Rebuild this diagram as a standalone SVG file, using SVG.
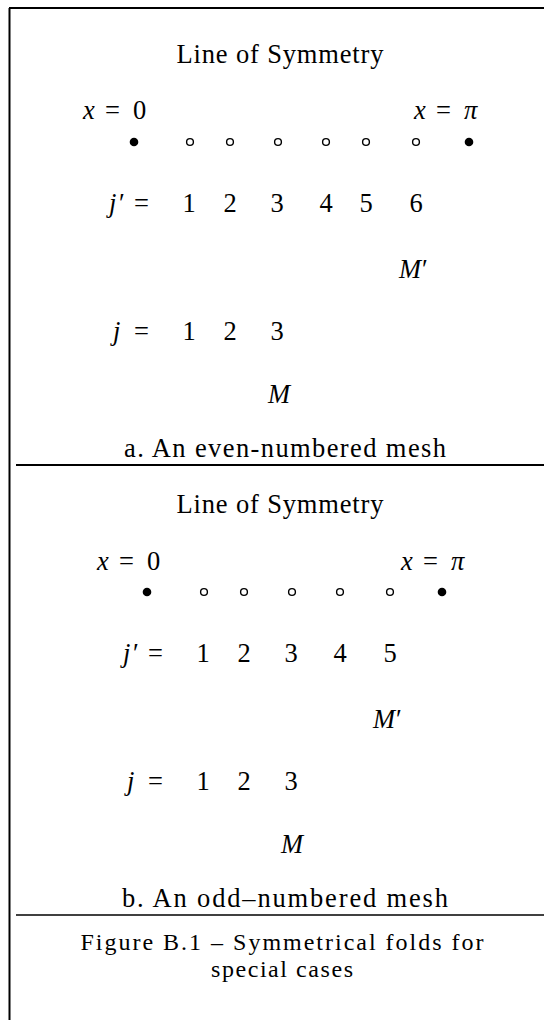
<svg xmlns="http://www.w3.org/2000/svg" width="544" height="1020" viewBox="0 0 544 1020">
<style>
text{font-family:"Liberation Serif","Times New Roman",serif;font-size:26.5px;fill:#000}
.c{text-anchor:middle}
.i{font-style:italic}
.cap{font-size:24px}
.dot{fill:#000}
.odot{fill:#fff;stroke:#000;stroke-width:1.4}
.frame{stroke:#000;fill:none}
</style>
<g id="frame">
<line class="frame" x1="9.5" y1="8" x2="9.5" y2="1020" stroke-width="2"/>
<line class="frame" x1="9" y1="8" x2="544" y2="8" stroke-width="2"/>
<line class="frame" x1="16" y1="465" x2="544" y2="465" stroke-width="2.2"/>
<line class="frame" x1="16" y1="915" x2="544" y2="915" stroke-width="1.5"/>
</g>
<g id="panel-a">
<text class="c" x="280" y="63" textLength="207" lengthAdjust="spacing">Line of Symmetry</text>
<text y="119"><tspan class="i" x="83">x</tspan><tspan x="105">=</tspan><tspan x="133">0</tspan></text>
<text y="119"><tspan class="i" x="414">x</tspan><tspan x="436">=</tspan><tspan class="i" x="464">π</tspan></text>
<g id="mesh-a">
<circle class="dot" cx="134" cy="142" r="4.3"/>
<circle class="odot" cx="190" cy="142" r="3.4"/>
<circle class="odot" cx="230" cy="142" r="3.4"/>
<circle class="odot" cx="278" cy="142" r="3.4"/>
<circle class="odot" cx="326" cy="142" r="3.4"/>
<circle class="odot" cx="366" cy="142" r="3.4"/>
<circle class="odot" cx="416" cy="142" r="3.4"/>
<circle class="dot" cx="469" cy="142" r="4.3"/>
</g>
<text y="212"><tspan class="i" x="109">j</tspan><tspan x="119">′</tspan><tspan x="134">=</tspan></text>
<text class="c" y="212"><tspan x="189">1</tspan><tspan x="230">2</tspan><tspan x="277">3</tspan><tspan x="326">4</tspan><tspan x="366">5</tspan><tspan x="416">6</tspan></text>
<text y="278"><tspan class="i" x="399">M</tspan><tspan x="422">′</tspan></text>
<text y="340"><tspan class="i" x="113">j</tspan><tspan x="134">=</tspan></text>
<text class="c" y="340"><tspan x="189">1</tspan><tspan x="230">2</tspan><tspan x="277">3</tspan></text>
<text class="c i" x="279" y="403">M</text>
<text class="c" x="285" y="457" textLength="322" lengthAdjust="spacing">a. An even-numbered mesh</text>
</g>
<g id="panel-b">
<text class="c" x="280" y="513" textLength="207" lengthAdjust="spacing">Line of Symmetry</text>
<text y="570"><tspan class="i" x="97">x</tspan><tspan x="119">=</tspan><tspan x="147">0</tspan></text>
<text y="570"><tspan class="i" x="401">x</tspan><tspan x="423">=</tspan><tspan class="i" x="451">π</tspan></text>
<g id="mesh-b">
<circle class="dot" cx="147" cy="592" r="4.3"/>
<circle class="odot" cx="204" cy="592" r="3.4"/>
<circle class="odot" cx="244" cy="592" r="3.4"/>
<circle class="odot" cx="292" cy="592" r="3.4"/>
<circle class="odot" cx="340" cy="592" r="3.4"/>
<circle class="odot" cx="390" cy="592" r="3.4"/>
<circle class="dot" cx="442" cy="592" r="4.3"/>
</g>
<text y="662"><tspan class="i" x="123">j</tspan><tspan x="133">′</tspan><tspan x="148">=</tspan></text>
<text class="c" y="662"><tspan x="203">1</tspan><tspan x="244">2</tspan><tspan x="291">3</tspan><tspan x="340">4</tspan><tspan x="390">5</tspan></text>
<text y="728"><tspan class="i" x="373">M</tspan><tspan x="396">′</tspan></text>
<text y="790"><tspan class="i" x="127">j</tspan><tspan x="148">=</tspan></text>
<text class="c" y="790"><tspan x="203">1</tspan><tspan x="244">2</tspan><tspan x="291">3</tspan></text>
<text class="c i" x="292" y="853">M</text>
<text class="c" x="285" y="907" textLength="326" lengthAdjust="spacing">b. An odd–numbered mesh</text>
</g>
<g id="caption">
<text class="c cap" x="282" y="950" textLength="403" lengthAdjust="spacing">Figure B.1 – Symmetrical folds for</text>
<text class="c cap" x="282" y="977" textLength="142" lengthAdjust="spacing">special cases</text>
</g>
</svg>
